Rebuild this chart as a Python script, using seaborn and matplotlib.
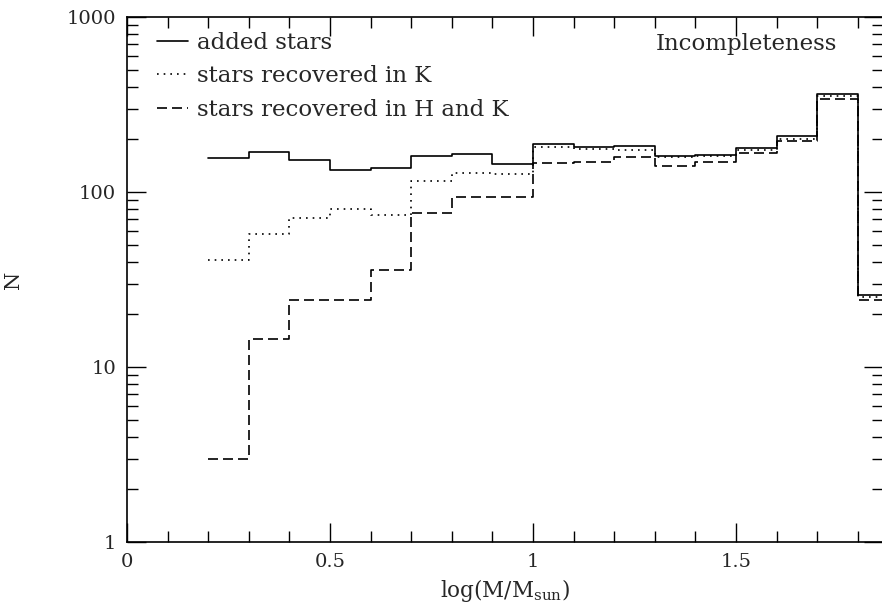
import numpy as np
import pandas as pd
import seaborn as sns
import matplotlib
matplotlib.use("Agg")
import matplotlib.pyplot as plt
from matplotlib.ticker import MultipleLocator, LogLocator, FixedLocator, NullFormatter

# bin edges in log(M/Msun)
bin_edges = [0.2, 0.3, 0.4, 0.5, 0.6, 0.7, 0.8, 0.9, 1.0, 1.1, 1.2, 1.3,
             1.4, 1.5, 1.6, 1.7, 1.8, 1.9]
added = [156, 169, 152, 134, 137, 161, 165, 145, 188, 181, 183, 161, 163,
         178, 209, 363, 25.8]
recovered_k = [41, 57.5, 71, 80, 74, 116, 128, 126, 181, 177, 174, 158, 161,
               174, 201, 354, 25]
recovered_hk = [3, 14.4, 24, 24, 36, 76, 94, 94, 147, 148, 158, 141, 148,
                167, 196, 340, 24]
labels = ["added stars", "stars recovered in K", "stars recovered in H and K"]
x_ticks = [0, 0.5, 1, 1.5]
x_ticklabels = ["0", "0.5", "1", "1.5"]
y_ticks = [1, 10, 100, 1000]
y_ticklabels = ["1", "10", "100", "1000"]

sns.set_style("ticks")
plt.rcParams["font.family"] = ["DejaVu Serif"]
plt.rcParams["mathtext.fontset"] = "dejavuserif"

fig = plt.figure(figsize=(8.82, 6.10), dpi=100)
ax = fig.add_axes([127/882, 1-542/610, (883-127)/882, (542-17)/610])

styles = ["-", (0, (1, 3)), (0, (6, 3))]
for series, lab, ls in zip([added, recovered_k, recovered_hk], labels, styles):
    df = pd.DataFrame({"x": bin_edges, "y": list(series) + [series[-1]]})
    sns.lineplot(data=df, x="x", y="y", drawstyle="steps-post", color="black",
                 linestyle=ls, linewidth=1.2, ax=ax, label=lab, sort=False)

ax.set_yscale("log")
ax.set_xlim(0, (883-127)/406)
ax.set_ylim(1, 1000)

ax.xaxis.set_major_locator(FixedLocator(x_ticks))
ax.xaxis.set_minor_locator(MultipleLocator(0.1))
ax.set_xticklabels(x_ticklabels)
ax.yaxis.set_major_locator(FixedLocator(y_ticks))
ax.yaxis.set_minor_locator(LogLocator(base=10, subs=np.arange(2, 10)))
ax.yaxis.set_minor_formatter(NullFormatter())
ax.set_yticklabels(y_ticklabels)

ax.tick_params(which="both", direction="in", top=True, right=True, color="black", width=1.0)
ax.tick_params(which="major", length=14, labelsize=14, pad=8)
ax.tick_params(which="minor", length=8)
for s in ax.spines.values():
    s.set_linewidth(1.2)
    s.set_color("black")

ax.set_xlabel(r"log(M/M$_{\mathrm{sun}}$)", fontsize=15.5, labelpad=4)
ax.set_ylabel("N", fontsize=15, labelpad=31)

ax.text((837-127)/756, (542-44)/525, "Incompleteness", transform=ax.transAxes,
        ha="right", va="center", fontsize=16.5)

leg = ax.legend(loc="upper left", frameon=False, fontsize=16.5, handlelength=1.35,
                handletextpad=0.4, labelspacing=0.5,
                bbox_to_anchor=(0.02, 1.0), borderaxespad=0.25)

fig.savefig("out.png", dpi=100)
